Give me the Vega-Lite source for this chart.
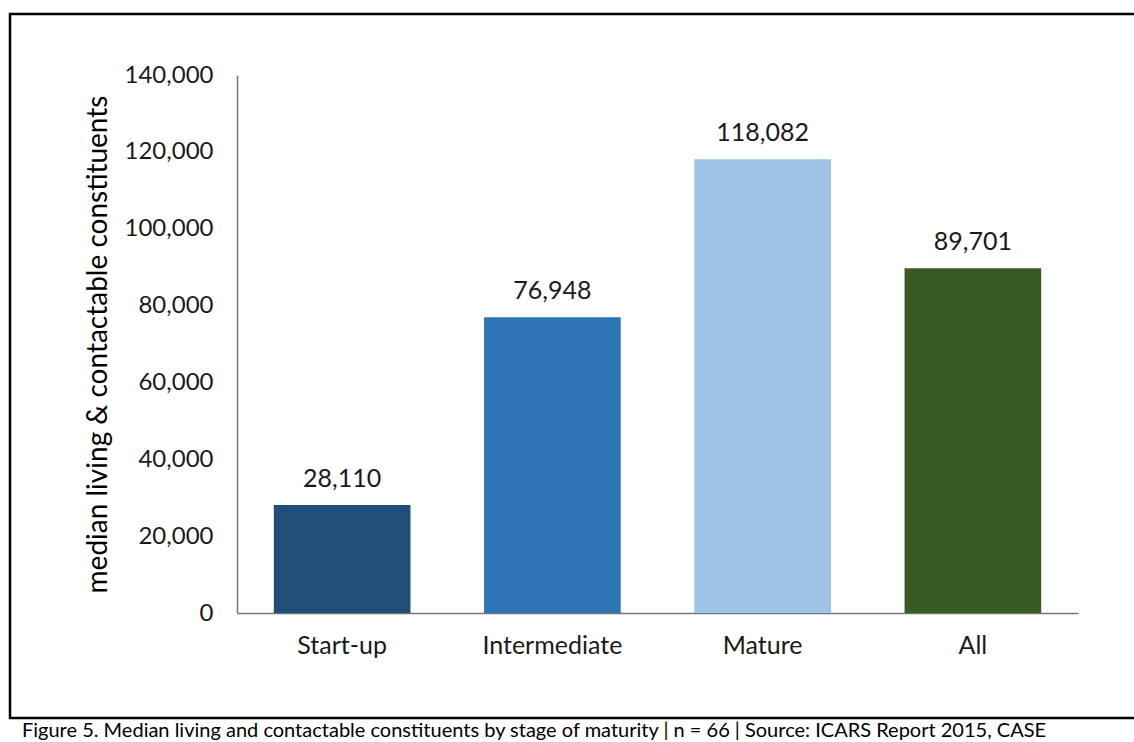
{
  "$schema": "https://vega.github.io/schema/vega-lite/v6.json",
  "autosize": "none",
  "width": 1127,
  "height": 704,
  "padding": {"left": 10, "top": 14, "right": 0, "bottom": 24},
  "background": "white",
  "title": {
    "text": "Figure 5. Median living and contactable constituents by stage of maturity  |  n = 66  |  Source: ICARS Report 2015, CASE",
    "orient": "bottom",
    "anchor": "start",
    "offset": 3,
    "dx": 12,
    "font": "Lato",
    "fontSize": 20,
    "fontWeight": "normal",
    "color": "#000000",
    "baseline": "top"
  },
  "data": {
    "values": [
      {"stage": "Start-up", "value": 28110},
      {"stage": "Intermediate", "value": 76948},
      {"stage": "Mature", "value": 118082},
      {"stage": "All", "value": 89701}
    ]
  },
  "encoding": {
    "x": {
      "field": "stage",
      "type": "nominal",
      "sort": null,
      "scale": {"range": [227, 1068], "paddingInner": 0.35, "paddingOuter": 0.175},
      "axis": {
        "title": null,
        "offset": -105,
        "labelAngle": 0,
        "labelFont": "Lato",
        "labelFontSize": 25,
        "labelColor": "#1a1a1a",
        "labelPadding": 20,
        "ticks": false,
        "domainColor": "#767676",
        "domainWidth": 1.5
      }
    },
    "y": {
      "field": "value",
      "type": "quantitative",
      "scale": {"domain": [0, 140000], "range": [599, 61], "nice": false},
      "axis": {
        "title": "median living & contactable constituents",
        "titleFont": "Lato",
        "titleFontSize": 28,
        "titleFontWeight": "normal",
        "titleColor": "#000000",
        "titlePadding": 12,
        "offset": -227,
        "values": [0, 20000, 40000, 60000, 80000, 100000, 120000, 140000],
        "labelExpr": "format(datum.value, ',')",
        "labelFont": "Lato",
        "labelFontSize": 24,
        "labelColor": "#1a1a1a",
        "labelPadding": 24,
        "ticks": false,
        "grid": false,
        "domainColor": "#767676",
        "domainWidth": 1.5
      }
    }
  },
  "layer": [
    {
      "mark": {"type": "bar"},
      "encoding": {
        "color": {
          "field": "stage",
          "type": "nominal",
          "scale": {
            "domain": ["Start-up", "Intermediate", "Mature", "All"],
            "range": ["#1F4E79", "#2E75B6", "#9DC3E6", "#3A5A24"]
          },
          "legend": null
        }
      }
    },
    {
      "mark": {"type": "text", "baseline": "bottom", "dy": -13, "font": "Lato", "fontSize": 25, "color": "#1a1a1a"},
      "encoding": {
        "text": {"field": "value", "type": "quantitative", "format": ","}
      }
    }
  ],
  "config": {
    "view": {"stroke": "#000000", "strokeWidth": 2.5}
  }
}
